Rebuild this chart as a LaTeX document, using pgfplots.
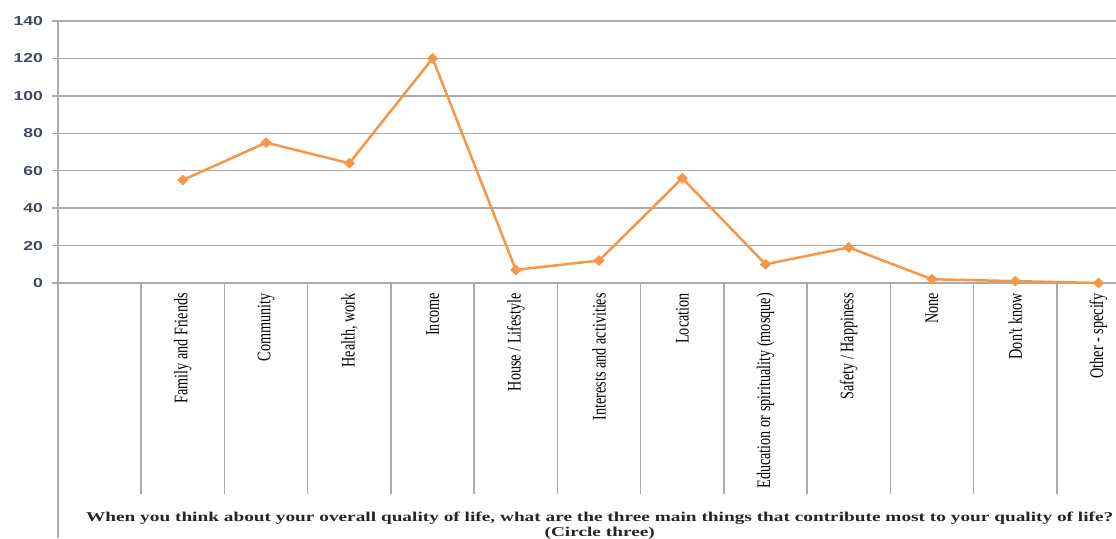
\documentclass[border=0pt]{standalone}
\usepackage{fontspec}
\setmainfont{Liberation Serif}
\usepackage{pgfplots}
\pgfplotsset{compat=1.18}
\newfontfamily\tickfont[FakeStretch=1.35]{Liberation Sans}
\newfontfamily\catfont[FakeStretch=0.74]{Liberation Serif}
\newfontfamily\titlefont[FakeStretch=1.43]{Liberation Serif}
\definecolor{lineorange}{HTML}{F79646}
\definecolor{gridgray}{HTML}{ABABAB}
\definecolor{ticktext}{HTML}{404A5A}
\begin{document}
\begin{tikzpicture}
\begin{axis}[
  at={(58pt,255pt)}, anchor=south west,
  scale only axis,
  width=1058pt, height=262pt,
  xmin=0, xmax=12.71,
  ymin=0, ymax=140,
  ytick={0,20,...,140},
  xtick={1.5,2.5,...,12.5},
  xticklabels={Family and Friends,Community,{Health, work},Income,House / Lifestyle,Interests and activities,Location,Education or spirituality (mosque),Safety / Happiness,None,Don't know,Other - specify},
  axis x line*=bottom,
  axis y line*=left,
  axis line style={gridgray, line width=1.5pt},
  ymajorgrids,
  major grid style={gridgray, line width=1.5pt},
  x tick style={draw=none},
  y tick style={gridgray, line width=1.5pt},
  tick align=outside,
  major tick length=6pt,
  /pgf/number format/assume math mode=true,
  yticklabel style={font=\tickfont\bfseries\fontsize{13}{15}\selectfont, text=ticktext, inner sep=0pt, anchor=east},
  yticklabel shift=9pt,
  xticklabel style={font=\catfont\fontsize{19.2}{22}\selectfont, rotate=90, anchor=east, inner sep=0pt, text=black},
  xticklabel shift=4pt,
  xlabel={When you think about your overall quality of life, what are the three main things that contribute most to your quality of life?\\(Circle three)},
  xlabel style={at={(axis description cs:0.512,0)}, anchor=north, yshift=-229pt, align=center, inner sep=0pt, text=black!85, font=\titlefont\bfseries\fontsize{13.5}{15}\selectfont},
  clip=false,
]
\pgfplotsinvokeforeach{1,...,12}{
  \draw[gridgray, line width=1.5pt] (axis cs:#1,0) -- ++(0,-211pt);
}
\draw[gridgray, line width=1.5pt] (axis cs:0,0) -- ++(0,-255pt);
\addplot[lineorange, line width=2.5pt, mark=diamond*, mark size=5pt, mark options={xscale=1.4, fill=lineorange, draw=lineorange, line width=0.5pt}] coordinates {
  (1.5,55) (2.5,75) (3.5,64) (4.5,120) (5.5,7) (6.5,12) (7.5,56) (8.5,10) (9.5,19) (10.5,2) (11.5,1) (12.5,0)
};
\end{axis}
\pgfresetboundingbox
\path (0,0) rectangle (1116pt,538pt);
\end{tikzpicture}
\end{document}
